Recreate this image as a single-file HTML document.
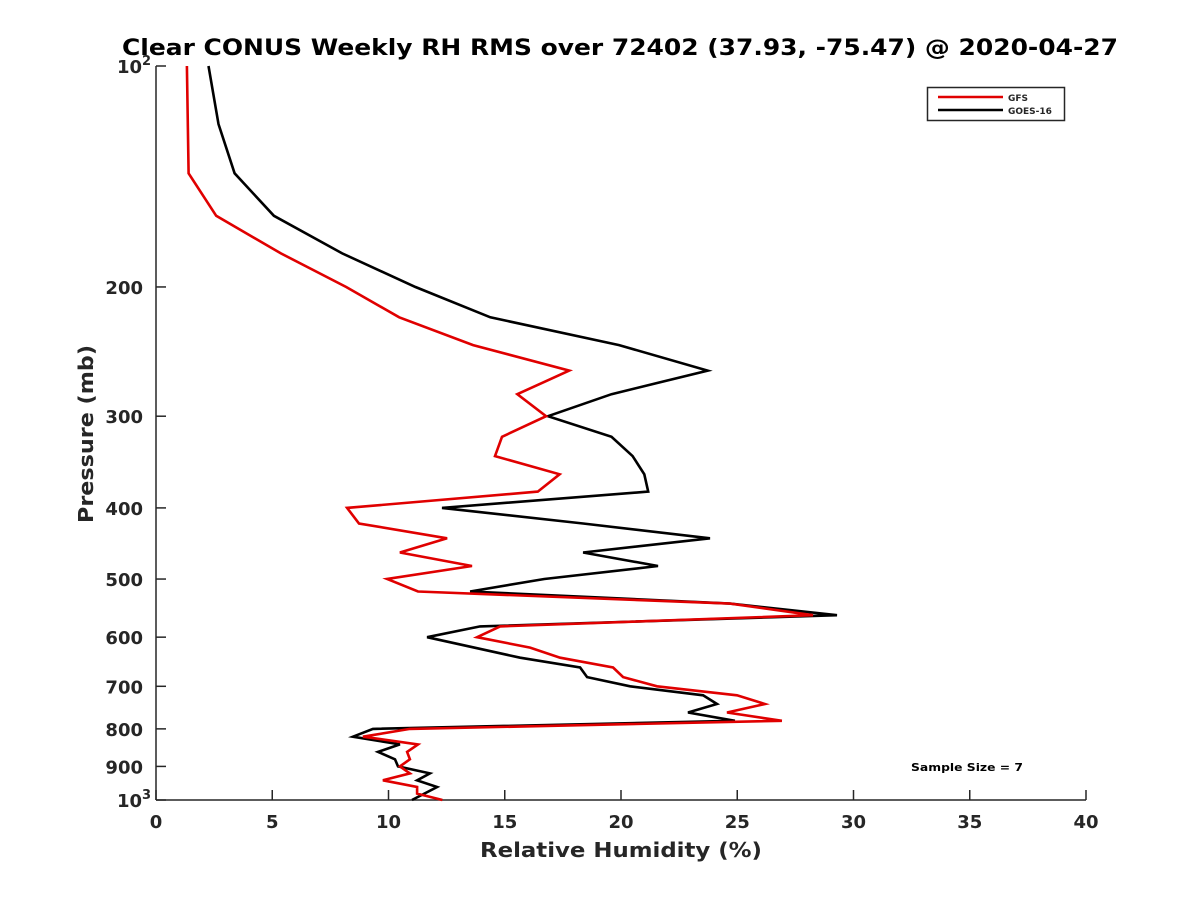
<!DOCTYPE html>
<html><head><meta charset="utf-8"><style>
body{margin:0;background:#fff;}
svg{display:block;font-family:"DejaVu Sans","Liberation Sans",sans-serif;font-weight:bold;}
</style></head><body>
<svg id="chart" width="1200" height="900" viewBox="0 0 1200 900">
<rect width="1200" height="900" fill="#fff"/>
<text x="620" y="55" text-anchor="middle" font-size="22" fill="#000" textLength="996" lengthAdjust="spacingAndGlyphs">Clear CONUS Weekly RH RMS over 72402 (37.93, -75.47) @ 2020-04-27</text>
<g id="axes"></g>
<g id="series"></g>
<g>
<rect x="927.5" y="87.5" width="137" height="33" fill="#fff" stroke="#262626" stroke-width="1.5"/>
<line x1="938" y1="97" x2="1003" y2="97" stroke="#e00000" stroke-width="2.5"/>
<text x="1008" y="101" font-size="9" fill="#262626">GFS</text>
<line x1="938" y1="110" x2="1003" y2="110" stroke="#000" stroke-width="2.5"/>
<text x="1008" y="114" font-size="9" fill="#262626">GOES-16</text>
</g>
<text x="911" y="771" font-size="11" fill="#000" textLength="112" lengthAdjust="spacingAndGlyphs">Sample Size = 7</text>
<text x="621" y="857" text-anchor="middle" font-size="20" fill="#262626" textLength="282" lengthAdjust="spacingAndGlyphs">Relative Humidity (%)</text>
<text transform="translate(93,434) rotate(-90)" text-anchor="middle" font-size="20" fill="#262626" textLength="178" lengthAdjust="spacingAndGlyphs">Pressure (mb)</text>
</svg>
<script>
const xTicks = [0,5,10,15,20,25,30,35,40];
const yTicks = [100,200,300,400,500,600,700,800,900,1000];
const yTickLabels = ["","200","300","400","500","600","700","800","900",""];
const gfsPressure = [100,140,160,180,200,220,240,260,280,300,320,340,360,380,400,420,440,460,480,500,520,540,560,580,600,620,640,660,680,700,720,740,760,780,800,820,840,860,880,900,920,940,960,980,1000];
const gfsRH = [1.33,1.4,2.59,5.37,8.18,10.46,13.64,17.77,15.54,16.78,14.88,14.58,17.36,16.42,8.22,8.73,12.52,10.49,13.59,9.94,11.27,24.69,28.26,14.8,13.81,16.09,17.38,19.66,20.09,21.55,24.99,26.19,24.56,26.92,10.92,8.9,11.27,10.8,10.92,10.49,10.92,9.76,11.23,11.23,12.32];
const goesPressure = [100,120,140,160,180,200,220,240,260,280,300,320,340,360,380,400,420,440,460,480,500,520,540,560,580,600,640,660,680,700,720,740,760,780,800,820,840,860,880,900,920,940,960,1000];
const goesRH = [2.26,2.69,3.38,5.07,8.01,11.16,14.38,19.92,23.73,19.59,16.86,19.59,20.5,21.0,21.17,12.3,18.37,23.83,18.37,21.59,16.7,13.51,24.69,29.29,13.94,11.66,15.66,18.24,18.54,20.39,23.53,24.13,22.88,24.9,9.33,8.47,10.49,9.55,10.28,10.41,11.78,11.23,12.09,11.01];

const X0=156,X1=1086,Y0=66,Y1=800;
const xs=v=>X0+(v-0)/40*(X1-X0);
const ys=p=>Y0+Math.log10(p/100)*(Y1-Y0);
const NS='http://www.w3.org/2000/svg';
const axes=document.getElementById('axes');
const series=document.getElementById('series');
function mk(tag,attrs,parent){const e=document.createElementNS(NS,tag);for(const k in attrs)e.setAttribute(k,attrs[k]);parent.appendChild(e);return e;}

const yAxis=mk('line',{x1:X0,y1:Y0,x2:X0,y2:Y1,stroke:'#262626','stroke-width':1.5},axes);


const xAxis=mk('line',{x1:X0,y1:Y1,x2:X1,y2:Y1,stroke:'#262626','stroke-width':1.5},axes);



xTicks.forEach(v=>{
  const x=xs(v);
  const t=mk('line',{x1:x,y1:Y1,x2:x,y2:Y1-10,stroke:'#262626','stroke-width':1.5},axes);
  
  
  const l=mk('text',{x:x,y:Y1+28,'text-anchor':'middle','font-size':18,fill:'#262626'},axes);
  l.textContent=String(v);
  
  
});
yTicks.forEach((p,i)=>{
  const y=ys(p);
  const t=mk('line',{x1:X0,y1:y,x2:X0+10,y2:y,stroke:'#262626','stroke-width':1.5},axes);
  
  
  if(yTickLabels[i]){
    const l=mk('text',{x:X0-13,y:y+7,'text-anchor':'end','font-size':18,fill:'#262626'},axes);
    l.textContent=yTickLabels[i];
    
    
  }
});
[[100,'2'],[1000,'3']].forEach(([p,e])=>{
  const y=ys(p);
  const l=mk('text',{x:X0-14,y:y+7,'text-anchor':'end','font-size':18,fill:'#262626'},axes);
  l.textContent='10';
  
  
  const s=mk('text',{x:X0-14,y:y-1,'font-size':13,fill:'#262626'},axes);
  s.textContent=e;
  
  
});

function drawLine(ps,vs,color,name){
  const pts=ps.map((p,i)=>xs(vs[i]).toFixed(1)+','+ys(p).toFixed(1)).join(' ');
  const pl=mk('polyline',{points:pts,fill:'none',stroke:color,'stroke-width':2.6,'stroke-linejoin':'miter'},series);
  
  
}
drawLine(goesPressure,goesRH,'#000','goes16-line');
drawLine(gfsPressure,gfsRH,'#e00000','gfs-line');
</script>
</body></html>
